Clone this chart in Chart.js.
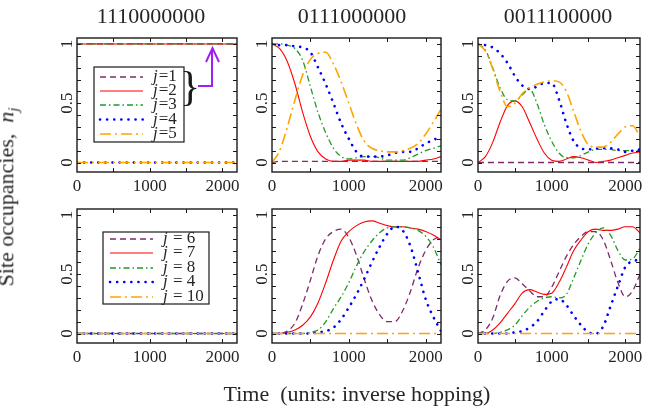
<!DOCTYPE html>
<html>
<head>
<meta charset="utf-8">
<script src="https://cdn.jsdelivr.net/npm/chart.js@4.4.1/dist/chart.umd.min.js"></script>
<style>
  html, body { margin: 0; padding: 0; background: #fff; }
  #page { position: relative; width: 646px; height: 412px; overflow: hidden;
          font-family: 'Liberation Serif', 'Times New Roman', serif; color: #262626; }
  #page canvas { position: absolute; left: 0; top: 0; }
  .title { position: absolute; top: 5px; font-size: 22px; line-height: 22px;
           transform: translateX(-50%); white-space: nowrap; }
  .xtitle { position: absolute; left: 357px; top: 383px; font-size: 22px; line-height: 22px;
            transform: translateX(-50%); white-space: pre; }
  .ytitle { position: absolute; left: 10px; top: 197px; font-size: 22px; line-height: 22px;
            transform: translate(-50%, -50%) rotate(-90deg); white-space: pre; }
  .ytitle sub { font-size: 15px; }
</style>
</head>
<body>
<div id="page">
  <canvas id="c1" width="646" height="412"></canvas>
  <canvas id="c2" width="646" height="412"></canvas>
  <canvas id="c3" width="646" height="412"></canvas>
  <canvas id="c4" width="646" height="412"></canvas>
  <canvas id="c5" width="646" height="412"></canvas>
  <canvas id="c6" width="646" height="412"></canvas>
  <div class="title" style="left:151px">1110000000</div>
  <div class="title" style="left:352px">0111000000</div>
  <div class="title" style="left:558px">0011100000</div>
  <div class="ytitle">Site occupancies,  <i>n</i><sub><i>j</i></sub></div>
  <div class="xtitle">Time  (units: inverse hopping)</div>
</div>
<script>
// time axis (inverse hopping units)
const t = [0, 100, 200, 300, 400, 500, 600, 700, 800, 900, 1000, 1100,
           1200, 1300, 1400, 1500, 1600, 1700, 1800, 1900, 2000, 2100, 2200];
const tFlat = [0, 2200];
const xTickValues = [0, 1000, 2000];
const yTickValues = [0, 0.5, 1];
const yTickLabels = ['0', '0.5', '1'];
const topLegend = ['1', '2', '3', '4', '5'];
const bottomLegend = ['6', '7', '8', '4', '10'];

// 1110000000, sites 1..5
const p1J1 = [1, 1];
const p1J2 = [1, 1];
const p1J3 = [1, 1];
const p1J4 = [0, 0];
const p1J5 = [0, 0];

// 0111000000, sites 1..5
const p2J1 = [0, 0.01, 0.01, 0.01, 0.01, 0.01, 0.01, 0.01, 0.01, 0.01, 0.01, 0.01,
              0.01, 0.01, 0.01, 0.01, 0.01, 0.01, 0.01, 0.01, 0.01, 0.01, 0.01];
const p2J2 = [1, 0.96, 0.85, 0.66, 0.42, 0.22, 0.09, 0.03, 0.01, 0.01, 0.02, 0.02,
              0.02, 0.01, 0.01, 0.01, 0.01, 0.01, 0.01, 0.01, 0.02, 0.03, 0.05];
const p2J3 = [1, 1, 0.99, 0.96, 0.86, 0.64, 0.42, 0.25, 0.12, 0.05, 0.03, 0.04,
              0.05, 0.05, 0.04, 0.02, 0.02, 0.02, 0.04, 0.07, 0.1, 0.12, 0.14];
const p2J4 = [1, 0.99, 0.99, 0.98, 0.97, 0.93, 0.8, 0.66, 0.5, 0.33, 0.2, 0.09,
              0.05, 0.05, 0.05, 0.06, 0.08, 0.09, 0.09, 0.12, 0.16, 0.19, 0.22];
const p2J5 = [0, 0.1, 0.3, 0.53, 0.74, 0.87, 0.92, 0.93, 0.83, 0.68, 0.5, 0.32,
              0.18, 0.12, 0.1, 0.09, 0.09, 0.1, 0.12, 0.16, 0.24, 0.34, 0.45];

// 0011100000, sites 1..5
const p3J1 = [0, 0, 0, 0, 0, 0, 0, 0, 0, 0, 0, 0, 0, 0, 0, 0, 0, 0, 0, 0, 0, 0, 0];
const p3J2 = [0, 0.05, 0.17, 0.34, 0.48, 0.52, 0.47, 0.34, 0.2, 0.08, 0.02, 0.01,
              0.03, 0.05, 0.04, 0.02, 0, 0.01, 0.02, 0.04, 0.06, 0.08, 0.09];
const p3J3 = [1, 0.95, 0.8, 0.63, 0.53, 0.52, 0.57, 0.62, 0.5, 0.32, 0.18, 0.08,
              0.04, 0.04, 0.06, 0.09, 0.11, 0.11, 0.11, 0.1, 0.1, 0.1, 0.1];
const p3J4 = [1, 0.99, 0.97, 0.92, 0.84, 0.73, 0.65, 0.62, 0.64, 0.67, 0.67, 0.53,
              0.33, 0.18, 0.12, 0.11, 0.12, 0.12, 0.12, 0.11, 0.09, 0.1, 0.11];
const p3J5 = [1, 0.94, 0.79, 0.6, 0.47, 0.5, 0.58, 0.63, 0.66, 0.68, 0.69, 0.68,
              0.6, 0.43, 0.26, 0.15, 0.13, 0.13, 0.17, 0.24, 0.3, 0.31, 0.22];

// 1110000000, sites 6, 7, 8, 4, 10
const p4J6 = [0, 0];
const p4J7 = [0, 0];
const p4J8 = [0, 0];
const p4J4 = [0, 0];
const p4J10 = [0, 0];

// 0111000000, sites 6, 7, 8, 4, 10
const p5J6 = [0, 0, 0.02, 0.09, 0.25, 0.45, 0.66, 0.8, 0.86, 0.88, 0.81, 0.66,
              0.46, 0.28, 0.16, 0.1, 0.1, 0.19, 0.35, 0.55, 0.7, 0.79, 0.82];
const p5J7 = [0, 0, 0.01, 0.03, 0.07, 0.14, 0.26, 0.43, 0.62, 0.78, 0.86, 0.91,
              0.94, 0.95, 0.93, 0.91, 0.9, 0.9, 0.89, 0.88, 0.86, 0.83, 0.79];
const p5J8 = [0, 0, 0, 0, 0, 0.01, 0.03, 0.1, 0.21, 0.31, 0.43, 0.57,
              0.69, 0.78, 0.85, 0.89, 0.9, 0.9, 0.89, 0.87, 0.82, 0.73, 0.58];
const p5J4 = [0, 0, 0, 0, 0, 0, 0.01, 0.02, 0.05, 0.12, 0.22, 0.33,
              0.46, 0.6, 0.73, 0.84, 0.9, 0.87, 0.74, 0.52, 0.29, 0.14, 0.02];
const p5J10 = [0, 0, 0, 0, 0, 0, 0, 0, 0, 0, 0, 0, 0, 0, 0, 0, 0, 0, 0, 0, 0, 0, 0];

// 0011100000, sites 6, 7, 8, 4, 10
const p6J6 = [0, 0.03, 0.13, 0.32, 0.44, 0.47, 0.42, 0.36, 0.31, 0.31, 0.39, 0.52,
              0.65, 0.75, 0.82, 0.86, 0.86, 0.79, 0.62, 0.43, 0.31, 0.36, 0.5];
const p6J7 = [0, 0, 0.03, 0.09, 0.17, 0.25, 0.34, 0.37, 0.35, 0.33, 0.34, 0.43,
              0.56, 0.7, 0.79, 0.86, 0.88, 0.87, 0.87, 0.88, 0.9, 0.9, 0.85];
const p6J8 = [0, 0, 0, 0.01, 0.03, 0.07, 0.15, 0.22, 0.27, 0.3, 0.31, 0.3,
              0.33, 0.47, 0.62, 0.76, 0.85, 0.89, 0.83, 0.7, 0.62, 0.63, 0.72];
const p6J4 = [0, 0, 0, 0, 0, 0.01, 0.02, 0.05, 0.1, 0.19, 0.27, 0.29,
              0.24, 0.15, 0.07, 0.01, 0, 0.06, 0.23, 0.4, 0.56, 0.61, 0.62];
const p6J10 = [0, 0, 0, 0, 0, 0, 0, 0, 0, 0, 0, 0, 0, 0, 0, 0, 0, 0, 0, 0, 0, 0, 0];

const W = 646, H = 412, X_AXIS_H = 24;
const TEXT = '#262626';
const FONT = "'Liberation Serif', 'Times New Roman', serif";

// gnuplot-ish line types, one per legend slot
const lineStyles = [
  { color: '#7e2a6e', width: 1.3, dash: [6, 4], cap: 'butt' },
  { color: '#ff0000', width: 1.1, dash: [], cap: 'butt' },
  { color: '#229a22', width: 1.3, dash: [6, 3, 1.5, 3], cap: 'butt' },
  { color: '#0000ff', width: 2.6, dash: [0.1, 7], cap: 'round' },
  { color: '#ffa500', width: 1.6, dash: [11, 4, 2, 4], cap: 'butt' }
];

// frame, inward ticks, rotated y tick labels
const framePlugin = {
  id: 'frame',
  afterDraw(chart) {
    const { ctx, chartArea: a } = chart;
    const x = chart.scales.x, y = chart.scales.y;
    ctx.save();
    ctx.strokeStyle = '#1a1a1a';
    ctx.lineWidth = 1;
    ctx.beginPath();
    for (let v = 500; v < 2200; v += 500) {
      const px = Math.round(x.getPixelForValue(v)) + 0.5;
      ctx.moveTo(px, a.bottom); ctx.lineTo(px, a.bottom - 4);
      ctx.moveTo(px, a.top); ctx.lineTo(px, a.top + 4);
    }
    for (let k = 0; k <= 10; k++) {
      const py = Math.round(y.getPixelForValue(k / 10)) + 0.5;
      ctx.moveTo(a.left, py); ctx.lineTo(a.left + 4, py);
      ctx.moveTo(a.right, py); ctx.lineTo(a.right - 4, py);
    }
    ctx.stroke();
    ctx.lineWidth = 1.4;
    ctx.strokeRect(a.left, a.top, a.right - a.left, a.bottom - a.top);

    ctx.fillStyle = TEXT;
    ctx.font = '17px ' + FONT;
    ctx.textAlign = 'center';
    ctx.textBaseline = 'alphabetic';
    yTickValues.forEach((v, i) => {
      ctx.save();
      ctx.translate(a.left - 5, y.getPixelForValue(v));
      ctx.rotate(-Math.PI / 2);
      ctx.fillText(yTickLabels[i], 0, 0);
      ctx.restore();
    });
    ctx.restore();
  }
};

// boxed key inside a panel
const keyPlugin = {
  id: 'keyBox',
  afterDraw(chart, args, opts) {
    if (!opts.labels) return;
    const ctx = chart.ctx;
    const b = opts.box;
    ctx.save();
    ctx.fillStyle = '#fff';
    ctx.fillRect(b[0], b[1], b[2] - b[0], b[3] - b[1]);
    ctx.strokeStyle = '#1a1a1a';
    ctx.lineWidth = 1.2;
    ctx.strokeRect(b[0], b[1], b[2] - b[0], b[3] - b[1]);
    opts.labels.forEach((lab, i) => {
      const s = lineStyles[i];
      const ry = opts.rows[i];
      ctx.strokeStyle = s.color;
      ctx.lineWidth = s.width;
      ctx.lineCap = s.cap;
      ctx.setLineDash(s.dash);
      ctx.beginPath();
      ctx.moveTo(opts.sample[0], ry);
      ctx.lineTo(opts.sample[1], ry);
      ctx.stroke();
      ctx.setLineDash([]);
      ctx.lineCap = 'butt';
      ctx.fillStyle = TEXT;
      ctx.textBaseline = 'middle';
      ctx.textAlign = 'left';
      ctx.font = 'italic 17px ' + FONT;
      ctx.fillText('j', opts.textX, ry);
      const jw = ctx.measureText('j').width;
      ctx.font = '17px ' + FONT;
      ctx.fillText(opts.sep + lab, opts.textX + jw + 1, ry);
    });
    if (opts.brace) {
      ctx.fillStyle = '#1a1a1a';
      ctx.font = '42px ' + FONT;
      ctx.textAlign = 'center';
      ctx.textBaseline = 'alphabetic';
      ctx.fillText('}', 190, 100);
      ctx.strokeStyle = '#a020f0';
      ctx.lineWidth = 2;
      ctx.beginPath();
      ctx.moveTo(198, 86); ctx.lineTo(212, 86); ctx.lineTo(212, 50);
      ctx.moveTo(206, 62); ctx.lineTo(212.5, 48); ctx.lineTo(219, 62);
      ctx.stroke();
    }
    ctx.restore();
  }
};

function makeChart(id, box, xs, series, key) {
  const datasets = series.map((ys, i) => ({
    label: 'j' + i,
    data: xs.map((x, k) => ({ x: x, y: ys[k] })),
    borderColor: lineStyles[i].color,
    borderWidth: lineStyles[i].width,
    borderDash: lineStyles[i].dash,
    borderCapStyle: lineStyles[i].cap,
    pointRadius: 0,
    fill: false,
    cubicInterpolationMode: 'monotone',
    order: series.length - i
  }));
  new Chart(document.getElementById(id), {
    type: 'line',
    data: { datasets: datasets },
    options: {
      responsive: false,
      animation: false,
      events: [],
      layout: {
        padding: { left: box.left, top: box.top, right: W - box.right, bottom: H - box.bottom - X_AXIS_H }
      },
      plugins: {
        legend: { display: false },
        tooltip: { enabled: false },
        keyBox: key || {}
      },
      scales: {
        x: {
          type: 'linear', min: 0, max: 2200,
          grid: { display: false }, border: { display: false },
          afterBuildTicks: s => { s.ticks = xTickValues.map(v => ({ value: v })); },
          ticks: {
            autoSkip: false, maxRotation: 0, padding: -4, color: TEXT,
            font: { family: FONT, size: 17 },
            callback: v => String(v)
          },
          afterFit: s => { s.height = X_AXIS_H; }
        },
        y: {
          type: 'linear', min: -0.08, max: 1.05,
          grid: { display: false }, border: { display: false },
          ticks: { display: false },
          afterFit: s => { s.width = 0; }
        }
      }
    },
    plugins: [framePlugin, keyPlugin]
  });
}

const topRow = { top: 38, bottom: 172 };
const botRow = { top: 209, bottom: 343 };
const col1 = { left: 77, right: 237 };
const col2 = { left: 272, right: 441 };
const col3 = { left: 478, right: 640 };

makeChart('c1', Object.assign({}, col1, topRow), tFlat, [p1J1, p1J2, p1J3, p1J4, p1J5], {
  labels: topLegend, sep: '=', box: [94, 67, 184, 142],
  rows: [77, 91, 105, 119.5, 134], sample: [100, 143], textX: 153, brace: true
});
makeChart('c2', Object.assign({}, col2, topRow), t, [p2J1, p2J2, p2J3, p2J4, p2J5]);
makeChart('c3', Object.assign({}, col3, topRow), t, [p3J1, p3J2, p3J3, p3J4, p3J5]);
makeChart('c4', Object.assign({}, col1, botRow), tFlat, [p4J6, p4J7, p4J8, p4J4, p4J10], {
  labels: bottomLegend, sep: ' = ', box: [103, 232, 209, 304],
  rows: [239, 253, 268, 282, 297], sample: [110, 153], textX: 163
});
makeChart('c5', Object.assign({}, col2, botRow), t, [p5J6, p5J7, p5J8, p5J4, p5J10]);
makeChart('c6', Object.assign({}, col3, botRow), t, [p6J6, p6J7, p6J8, p6J4, p6J10]);
</script>
</body>
</html>
